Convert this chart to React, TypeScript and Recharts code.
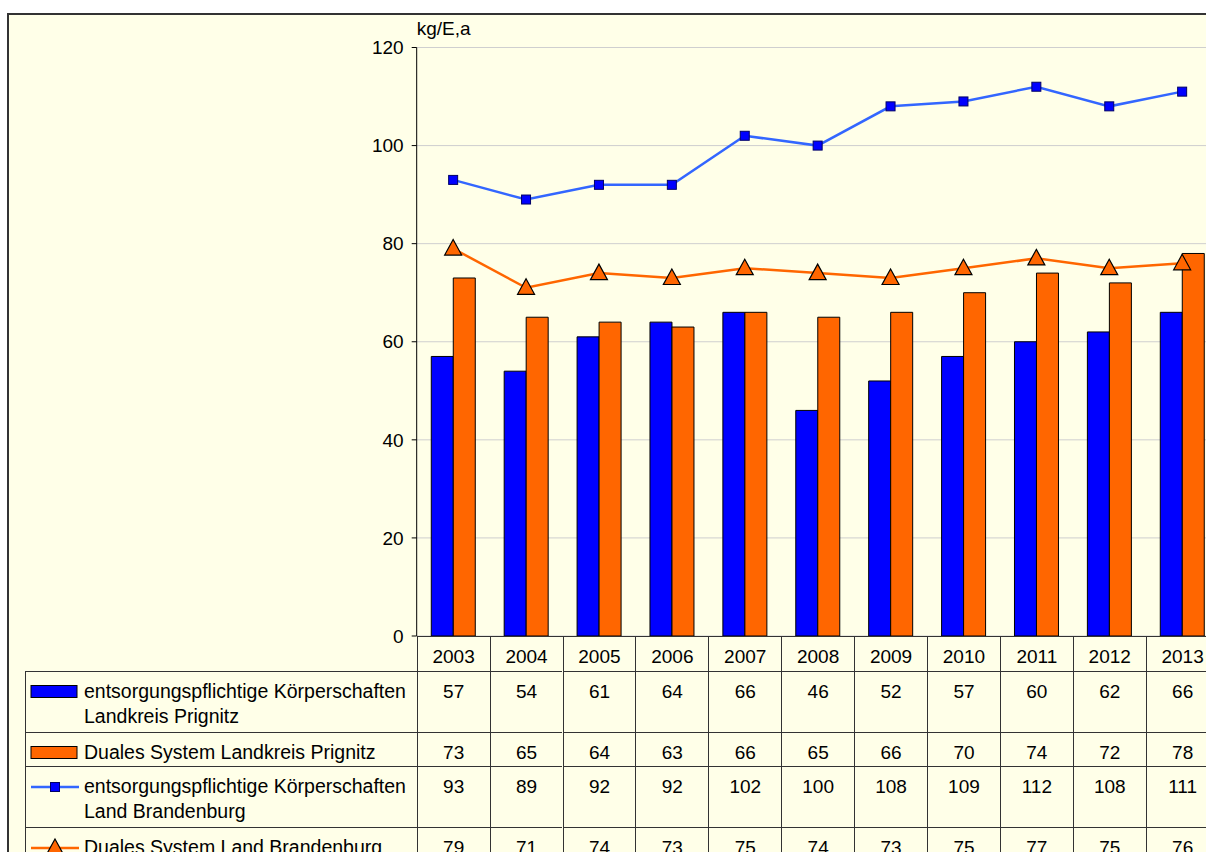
import React from 'react';
import { ComposedChart, Bar, Line, XAxis, YAxis, CartesianGrid } from 'recharts';

const years = ['2003', '2004', '2005', '2006', '2007', '2008', '2009', '2010', '2011', '2012', '2013'];
const koerperschaftenPrignitz = [57, 54, 61, 64, 66, 46, 52, 57, 60, 62, 66];
const dualesPrignitz = [73, 65, 64, 63, 66, 65, 66, 70, 74, 72, 78];
const koerperschaftenBrandenburg = [93, 89, 92, 92, 102, 100, 108, 109, 112, 108, 111];
const dualesBrandenburg = [79, 71, 74, 73, 75, 74, 73, 75, 77, 75, 76];
const yTicks = [0, 20, 40, 60, 80, 100, 120];
const unitLabel = 'kg/E,a';

const seriesRows = [
  { key: 'kp', lines: ['entsorgungspflichtige Körperschaften', 'Landkreis Prignitz'], values: koerperschaftenPrignitz, icon: 'barBlue' },
  { key: 'dp', lines: ['Duales System Landkreis Prignitz'], values: dualesPrignitz, icon: 'barOrange' },
  { key: 'kb', lines: ['entsorgungspflichtige Körperschaften', 'Land Brandenburg'], values: koerperschaftenBrandenburg, icon: 'lineSquare' },
  { key: 'db', lines: ['Duales System Land Brandenburg'], values: dualesBrandenburg, icon: 'lineTriangle' },
];

const data = years.map((y, i) => ({
  year: y,
  kp: koerperschaftenPrignitz[i],
  dp: dualesPrignitz[i],
  kb: koerperschaftenBrandenburg[i],
  db: dualesBrandenburg[i],
}));

const FONT = '"Liberation Sans", Arial, sans-serif';
const BG = '#FFFFE8';
const BLUE = '#0000FF';
const LINE_BLUE = '#3366FF';
const ORANGE = '#FF6600';
const BORDER = '#333333';

const PLOT_LEFT = 416.7;
const PLOT_TOP = 47.5;
const PLOT_BOTTOM = 636;
const BAND = 72.9;
const CHART_W = 1230;
const CHART_H = 660;
const YAXIS_W = 60;
const TABLE_LEFT = 25;
const HEADER_H = 35;
const ROW_H = [61, 34, 61, 40];

const SquareDot = (props: any) => {
  const { cx, cy } = props;
  if (cx == null || cy == null) return null;
  return <rect x={cx - 4.5} y={cy - 4.5} width={9} height={9} fill={BLUE} stroke="#000066" strokeWidth={1} />;
};

const TriangleDot = (props: any) => {
  const { cx, cy } = props;
  if (cx == null || cy == null) return null;
  return (
    <polygon
      points={`${cx},${cy - 9} ${cx + 8.5},${cy + 6.5} ${cx - 8.5},${cy + 6.5}`}
      fill={ORANGE}
      stroke="#000"
      strokeWidth={1.2}
    />
  );
};

const LegendIcon = ({ type }: { type: string }) => {
  if (type === 'barBlue' || type === 'barOrange') {
    return (
      <svg width={50} height={16} style={{ position: 'absolute', left: 4, top: 12 }}>
        <rect x={1} y={1.5} width={46} height={12} fill={type === 'barBlue' ? BLUE : ORANGE} stroke="#000" strokeWidth={1} />
      </svg>
    );
  }
  if (type === 'lineSquare') {
    return (
      <svg width={52} height={20} style={{ position: 'absolute', left: 4, top: 10 }}>
        <line x1={1} y1={10} x2={49} y2={10} stroke={LINE_BLUE} strokeWidth={2.5} />
        <rect x={20.5} y={5.5} width={9} height={9} fill={BLUE} stroke="#000066" strokeWidth={1} />
      </svg>
    );
  }
  return (
    <svg width={52} height={22} style={{ position: 'absolute', left: 4, top: 9 }}>
      <line x1={1} y1={11} x2={49} y2={11} stroke={ORANGE} strokeWidth={2.5} />
      <polygon points="25,2 33.5,17.5 16.5,17.5" fill={ORANGE} stroke="#000" strokeWidth={1.2} />
    </svg>
  );
};

const cellText: React.CSSProperties = {
  fontFamily: FONT,
  fontSize: 19,
  lineHeight: '25px',
  color: '#000',
  whiteSpace: 'nowrap',
};

const DataTable = () => {
  const cells: React.ReactNode[] = [];
  years.forEach((y, i) => {
    cells.push(
      <div
        key={'h' + i}
        style={{
          position: 'absolute',
          left: PLOT_LEFT + i * BAND,
          top: PLOT_BOTTOM,
          width: BAND,
          height: HEADER_H,
          borderLeft: `1px solid ${BORDER}`,
          boxSizing: 'border-box',
          textAlign: 'center',
          paddingTop: 8,
          ...cellText,
        }}
      >
        {y}
      </div>
    );
  });
  let top = PLOT_BOTTOM + HEADER_H;
  seriesRows.forEach((row, r) => {
    const h = ROW_H[r];
    cells.push(
      <div
        key={'l' + r}
        style={{
          position: 'absolute',
          left: TABLE_LEFT,
          top,
          width: PLOT_LEFT - TABLE_LEFT,
          height: h,
          borderTop: `1px solid ${BORDER}`,
          borderLeft: `1px solid ${BORDER}`,
          boxSizing: 'border-box',
        }}
      >
        <LegendIcon type={row.icon} />
        <div style={{ position: 'absolute', left: 58, top: 7, ...cellText, fontSize: 19.5 }}>
          {row.lines.map((ln, k) => (
            <div key={k}>{ln}</div>
          ))}
        </div>
      </div>
    );
    row.values.forEach((v, i) => {
      cells.push(
        <div
          key={'c' + r + '-' + i}
          style={{
            position: 'absolute',
            left: PLOT_LEFT + i * BAND,
            top,
            width: BAND,
            height: h,
            borderTop: `1px solid ${BORDER}`,
            borderLeft: `1px solid ${BORDER}`,
            boxSizing: 'border-box',
            textAlign: 'center',
            paddingTop: 7,
            ...cellText,
          }}
        >
          {v}
        </div>
      );
    });
    top += h;
  });
  cells.push(
    <div
      key="axis"
      style={{
        position: 'absolute',
        left: PLOT_LEFT,
        top: PLOT_BOTTOM - 0.5,
        width: BAND * years.length,
        height: 0,
        borderTop: `1px solid ${BORDER}`,
      }}
    />
  );
  return <>{cells}</>;
};

export default function App() {
  return (
    <div style={{ position: 'absolute', left: 0, top: 0, width: 1206, height: 852, overflow: 'hidden', background: '#fff' }}>
      <div
        style={{
          position: 'absolute',
          left: 7,
          top: 13,
          width: 1250,
          height: 900,
          background: BG,
          borderLeft: `2px solid ${BORDER}`,
          borderTop: `2px solid ${BORDER}`,
          boxSizing: 'border-box',
        }}
      />
      <div style={{ position: 'absolute', left: 0, top: 0 }}>
        <ComposedChart
          width={CHART_W}
          height={CHART_H}
          data={data}
          margin={{ top: PLOT_TOP, right: CHART_W - PLOT_LEFT - BAND * years.length, left: PLOT_LEFT - YAXIS_W, bottom: CHART_H - PLOT_BOTTOM }}
          barCategoryGap="20%"
          barGap={0}
        >
          <CartesianGrid vertical={false} stroke="#CFCFCF" strokeWidth={1} />
          <XAxis dataKey="year" hide />
          <YAxis
            width={YAXIS_W}
            domain={[0, 120]}
            ticks={yTicks}
            interval={0}
            axisLine={{ stroke: '#000', strokeWidth: 1 }}
            tickLine={{ stroke: '#000' }}
            tickSize={5}
            tickMargin={8}
            tick={{ fill: '#000', fontSize: 19, fontFamily: FONT }}
          />
          <Bar dataKey="kp" fill={BLUE} stroke="#000" strokeWidth={1} isAnimationActive={false} />
          <Bar dataKey="dp" fill={ORANGE} stroke="#000" strokeWidth={1} isAnimationActive={false} />
          <Line dataKey="kb" stroke={LINE_BLUE} strokeWidth={2.5} dot={<SquareDot />} activeDot={false} isAnimationActive={false} />
          <Line dataKey="db" stroke={ORANGE} strokeWidth={2.5} dot={<TriangleDot />} activeDot={false} isAnimationActive={false} />
        </ComposedChart>
      </div>
      <div
        style={{
          position: 'absolute',
          left: PLOT_LEFT,
          top: 19,
          fontFamily: FONT,
          fontSize: 19,
          lineHeight: '19px',
          color: '#000',
        }}
      >
        {unitLabel}
      </div>
      <DataTable />
    </div>
  );
}
